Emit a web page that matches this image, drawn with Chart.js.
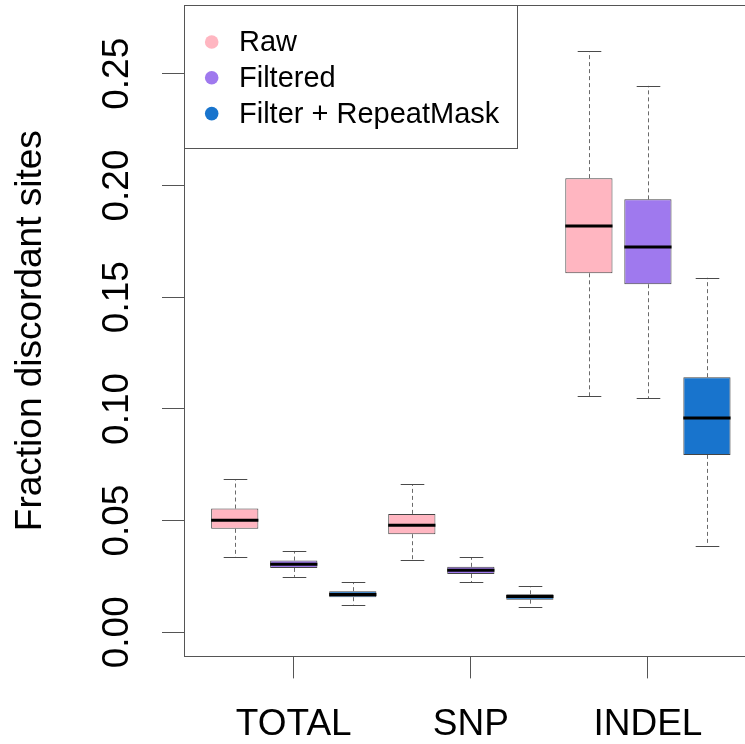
<!DOCTYPE html>
<html>
<head>
<meta charset="utf-8">
<script src="https://cdn.jsdelivr.net/npm/chart.js@4/dist/chart.umd.min.js"></script>
<style>
  html, body { margin: 0; padding: 0; overflow: hidden; background: #fff; }
  canvas { display: block; }
</style>
</head>
<body>
<canvas id="chart" width="760" height="772"></canvas>
<script>
// Categories and series
const categories = ['TOTAL', 'SNP', 'INDEL'];
const seriesNames = ['Raw', 'Filtered', 'Filter + RepeatMask'];
const seriesColors = ['#FFB6C1', '#9F79EE', '#1874CD'];

// Five-number summaries, one value per category (TOTAL, SNP, INDEL)
const rawLow   = [0.0336, 0.0323, 0.1057];
const rawQ1    = [0.0463, 0.0439, 0.1607];
const rawMed   = [0.0502, 0.0479, 0.1819];
const rawQ3    = [0.0554, 0.0530, 0.2033];
const rawHigh  = [0.0686, 0.0663, 0.2600];

const filtLow  = [0.0248, 0.0224, 0.1047];
const filtQ1   = [0.0288, 0.0261, 0.1558];
const filtMed  = [0.0305, 0.0278, 0.1725];
const filtQ3   = [0.0321, 0.0293, 0.1938];
const filtHigh = [0.0364, 0.0335, 0.2446];

const maskLow  = [0.0124, 0.0115, 0.0388];
const maskQ1   = [0.0157, 0.0146, 0.0794];
const maskMed  = [0.0169, 0.0160, 0.0959];
const maskQ3   = [0.0184, 0.0170, 0.1142];
const maskHigh = [0.0224, 0.0206, 0.1587];

// Axis ticks
const yTickValues = [0, 0.05, 0.10, 0.15, 0.20, 0.25];
const yTickLabels = ['0.00', '0.05', '0.10', '0.15', '0.20', '0.25'];
const yTitle = 'Fraction discordant sites';

const summaries = [
  { low: rawLow,  q1: rawQ1,  med: rawMed,  q3: rawQ3,  high: rawHigh },
  { low: filtLow, q1: filtQ1, med: filtMed, q3: filtQ3, high: filtHigh },
  { low: maskLow, q1: maskQ1, med: maskMed, q3: maskQ3, high: maskHigh }
];

// Boxes sit in groups of three along the x axis, one slot per series
const slot = (cat, s) => cat * seriesNames.length + s + 1;

const FONT = "'Liberation Sans', Arial, Helvetica, sans-serif";
const AXIS_GREY = '#555555';

const datasets = seriesNames.map((name, s) => ({
  type: 'bar',
  label: name,
  data: categories.map((c, i) => ({ x: slot(i, s), y: [summaries[s].q1[i], summaries[s].q3[i]] })),
  backgroundColor: seriesColors[s],
  borderColor: '#444444',
  borderWidth: 1,
  borderSkipped: false,
  grouped: false,
  categoryPercentage: 1,
  barPercentage: 0.8
}));

// Whiskers, staples, medians, frame, rotated y labels and the legend
const boxplotExtras = {
  id: 'boxplotExtras',
  beforeDatasetsDraw(chart) {
    const { ctx, scales: { y } } = chart;
    ctx.save();
    summaries.forEach((sm, s) => {
      const meta = chart.getDatasetMeta(s);
      meta.data.forEach((bar, i) => {
        const cx = Math.round(bar.x) + 0.5;
        const half = bar.width / 4;
        const yLow = y.getPixelForValue(sm.low[i]);
        const yQ1 = y.getPixelForValue(sm.q1[i]);
        const yQ3 = y.getPixelForValue(sm.q3[i]);
        const yHigh = y.getPixelForValue(sm.high[i]);
        // dashed whiskers
        ctx.strokeStyle = '#6a6a6a';
        ctx.lineWidth = 1;
        ctx.setLineDash([4, 3]);
        ctx.beginPath();
        ctx.moveTo(cx, yQ3); ctx.lineTo(cx, yHigh);
        ctx.moveTo(cx, yQ1); ctx.lineTo(cx, yLow);
        ctx.stroke();
        // staples
        ctx.setLineDash([]);
        ctx.strokeStyle = '#4a4a4a';
        ctx.beginPath();
        ctx.moveTo(cx - half, Math.round(yHigh) + 0.5); ctx.lineTo(cx + half, Math.round(yHigh) + 0.5);
        ctx.moveTo(cx - half, Math.round(yLow) + 0.5); ctx.lineTo(cx + half, Math.round(yLow) + 0.5);
        ctx.stroke();
      });
    });
    ctx.restore();
  },
  afterDatasetsDraw(chart) {
    const { ctx, scales: { y } } = chart;
    ctx.save();
    ctx.strokeStyle = '#000000';
    ctx.lineWidth = 3;
    summaries.forEach((sm, s) => {
      chart.getDatasetMeta(s).data.forEach((bar, i) => {
        const ym = y.getPixelForValue(sm.med[i]);
        ctx.beginPath();
        ctx.moveTo(bar.x - bar.width / 2, ym);
        ctx.lineTo(bar.x + bar.width / 2, ym);
        ctx.stroke();
      });
    });
    ctx.restore();
  },
  afterDraw(chart) {
    const { ctx, chartArea: a, scales: { y } } = chart;
    ctx.save();
    // plot frame
    ctx.strokeStyle = AXIS_GREY;
    ctx.lineWidth = 1;
    ctx.strokeRect(Math.round(a.left) + 0.5, Math.round(a.top) + 0.5,
                   Math.round(a.right - a.left), Math.round(a.bottom - a.top));

    // y tick labels, written parallel to the axis
    ctx.fillStyle = '#000000';
    ctx.font = `37px ${FONT}`;
    ctx.textAlign = 'center';
    ctx.textBaseline = 'alphabetic';
    yTickValues.forEach((v, k) => {
      ctx.save();
      ctx.translate(a.left - 56, y.getPixelForValue(v));
      ctx.rotate(-Math.PI / 2);
      ctx.fillText(yTickLabels[k], 0, 0);
      ctx.restore();
    });

    // legend in the top-left corner of the plot
    const fontSize = 29;
    ctx.font = `${fontSize}px ${FONT}`;
    const textLeft = 55;
    const widest = Math.max(...chart.data.datasets.map(d => ctx.measureText(d.label).width));
    const boxW = textLeft + widest + 18;
    const rowH = 35.8;
    const firstRow = 37;
    const boxH = firstRow + rowH * (seriesNames.length - 1) + 34;
    const lx = Math.round(a.left) + 0.5, ly = Math.round(a.top) + 0.5;
    ctx.fillStyle = '#ffffff';
    ctx.fillRect(lx, ly, boxW, boxH);
    ctx.strokeStyle = AXIS_GREY;
    ctx.strokeRect(lx, ly, Math.round(boxW), Math.round(boxH));
    ctx.textAlign = 'left';
    ctx.textBaseline = 'middle';
    chart.data.datasets.forEach((d, k) => {
      const ry = a.top + firstRow + rowH * k;
      ctx.fillStyle = d.backgroundColor;
      ctx.beginPath();
      ctx.arc(a.left + 27.7, ry, 6.8, 0, Math.PI * 2);
      ctx.fill();
      ctx.fillStyle = '#000000';
      ctx.fillText(d.label, a.left + textLeft, ry + 1);
    });
    ctx.restore();
  }
};

new Chart(document.getElementById('chart'), {
  type: 'bar',
  data: { datasets },
  plugins: [boxplotExtras],
  options: {
    responsive: false,
    animation: false,
    devicePixelRatio: 1,
    layout: { padding: { left: 0, top: 5, right: 2.3, bottom: 0 } },
    plugins: { legend: { display: false }, tooltip: { enabled: false } },
    scales: {
      x: {
        type: 'linear',
        min: 0.14,
        max: 9.86,
        offset: false,
        afterBuildTicks(scale) {
          scale.ticks = categories.map((c, i) => ({ value: slot(i, 1) }));
        },
        ticks: {
          autoSkip: false,
          maxRotation: 0,
          padding: 24.6,
          color: '#000000',
          font: { family: FONT, size: 37 },
          callback: (value, index) => categories[index]
        },
        grid: { drawOnChartArea: false, drawTicks: true, tickLength: 22, color: AXIS_GREY, offset: false },
        border: { display: false }
      },
      y: {
        type: 'linear',
        min: -0.0108,
        max: 0.2808,
        afterBuildTicks(scale) {
          scale.ticks = yTickValues.map(v => ({ value: v }));
        },
        ticks: { display: false },
        grid: { drawOnChartArea: false, drawTicks: true, tickLength: 22, color: AXIS_GREY },
        border: { display: false },
        title: {
          display: true,
          text: yTitle,
          color: '#000000',
          font: { family: FONT, size: 37 },
          padding: { top: 9, bottom: 108.6 }
        }
      }
    }
  }
});
</script>
</body>
</html>
